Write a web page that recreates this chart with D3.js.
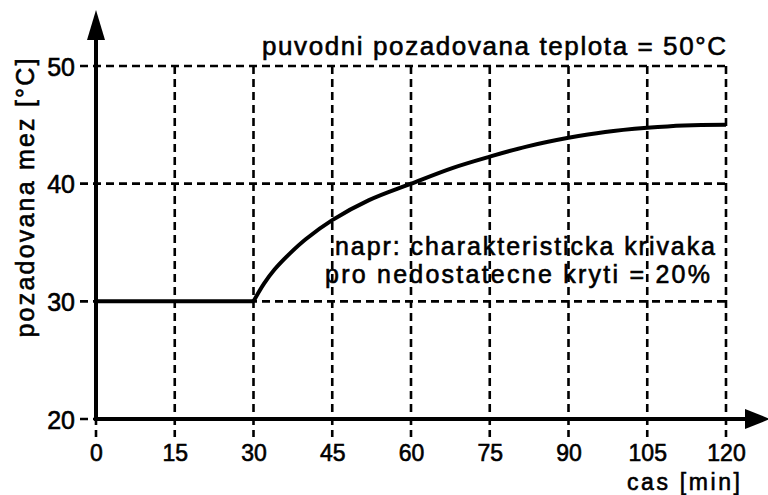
<!DOCTYPE html>
<html><head><meta charset="utf-8">
<script src="https://cdn.jsdelivr.net/npm/d3@7"></script>
<style>
body{margin:0;background:#fff;}
text{font-family:"Liberation Sans",Arial,sans-serif;fill:#000;stroke:#000;stroke-width:0.6px;}
</style></head>
<body>
<svg id="c" width="768" height="495"></svg>
<script>
const xTicks = [0,15,30,45,60,75,90,105,120];
const yTicks = [20,30,40,50];
const timeMin = [0,30,32,34,37,40,45,52,60,68,75,82,90,97,105,112,120];
const limitC  = [30,30,31.5,32.7,34.1,35.3,36.9,38.6,40.0,41.35,42.3,43.15,43.9,44.4,44.75,44.95,45.0];
const titleText = "puvodni pozadovana teplota = 50°C";
const noteLines = ["napr: charakteristicka krivaka","pro nedostatecne kryti = 20%"];
const xLabel = "cas [min]";
const yLabel = "pozadovana mez [°C]";

const svg = d3.select("#c");
const x = d3.scaleLinear().domain([0,120]).range([96,726]);
const y = d3.scaleLinear().domain([20,50]).range([419,66]);

// grid
const grid = svg.append("g").attr("stroke","#000").attr("stroke-width",2.6).attr("stroke-dasharray","8,5").attr("fill","none");
yTicks.forEach(v=>grid.append("line").attr("x1",x(0)-16).attr("x2",x(120)).attr("y1",y(v)).attr("y2",y(v)));
xTicks.forEach(v=>grid.append("line").attr("x1",x(v)).attr("x2",x(v)).attr("y1",y(50)).attr("y2",y(20)+18));

// axes labels via d3 axes
const ya = svg.append("g").attr("transform","translate(75,0)")
  .call(d3.axisLeft(y).tickValues(yTicks).tickSize(0).tickPadding(0));
ya.select(".domain").remove();
ya.selectAll("text").attr("font-size",25).attr("font-family","Liberation Sans, Arial, sans-serif").attr("dy","0.36em");
const xa = svg.append("g").attr("transform","translate(0,444)")
  .call(d3.axisBottom(x).tickValues(xTicks).tickSize(0).tickPadding(0));
xa.select(".domain").remove();
xa.selectAll("text").attr("font-size",23).attr("font-family","Liberation Sans, Arial, sans-serif").attr("dy","0.75em");

// axis lines and arrows
svg.append("line").attr("x1",96).attr("x2",96).attr("y1",421).attr("y2",38).attr("stroke","#000").attr("stroke-width",4);
svg.append("path").attr("d","M96,10 L87,40 L105,40 Z").attr("fill","#000");
svg.append("line").attr("x1",94).attr("x2",748).attr("y1",419).attr("y2",419).attr("stroke","#000").attr("stroke-width",4);
svg.append("path").attr("d","M770,419 L745,409 L745,429 Z").attr("fill","#000");

// curve
const pts = timeMin.map((t,i)=>[t,limitC[i]]);
svg.append("path").datum(pts.slice(0,2)).attr("fill","none").attr("stroke","#000").attr("stroke-width",4)
  .attr("d",d3.line().x(d=>x(d[0])).y(d=>y(d[1])));
svg.append("path").datum(pts.slice(1)).attr("fill","none").attr("stroke","#000").attr("stroke-width",4).attr("stroke-linecap","butt")
  .attr("d",d3.line().x(d=>x(d[0])).y(d=>y(d[1])).curve(d3.curveCatmullRom.alpha(0.5)));

// texts
svg.append("text").attr("x",262).attr("y",55).attr("font-size",26).attr("textLength",464).attr("lengthAdjust","spacing").text(titleText);
svg.append("text").attr("x",335).attr("y",255).attr("font-size",25).attr("textLength",380).attr("lengthAdjust","spacing").text(noteLines[0]);
svg.append("text").attr("x",325).attr("y",283).attr("font-size",25).attr("textLength",385).attr("lengthAdjust","spacing").text(noteLines[1]);
svg.append("text").attr("x",627).attr("y",490).attr("font-size",23).attr("textLength",113).attr("lengthAdjust","spacing").text(xLabel);
svg.append("text").attr("transform","translate(34,198) rotate(-90)").attr("text-anchor","middle").attr("font-size",25)
  .attr("textLength",279).attr("lengthAdjust","spacing").text(yLabel);
</script>
</body></html>
